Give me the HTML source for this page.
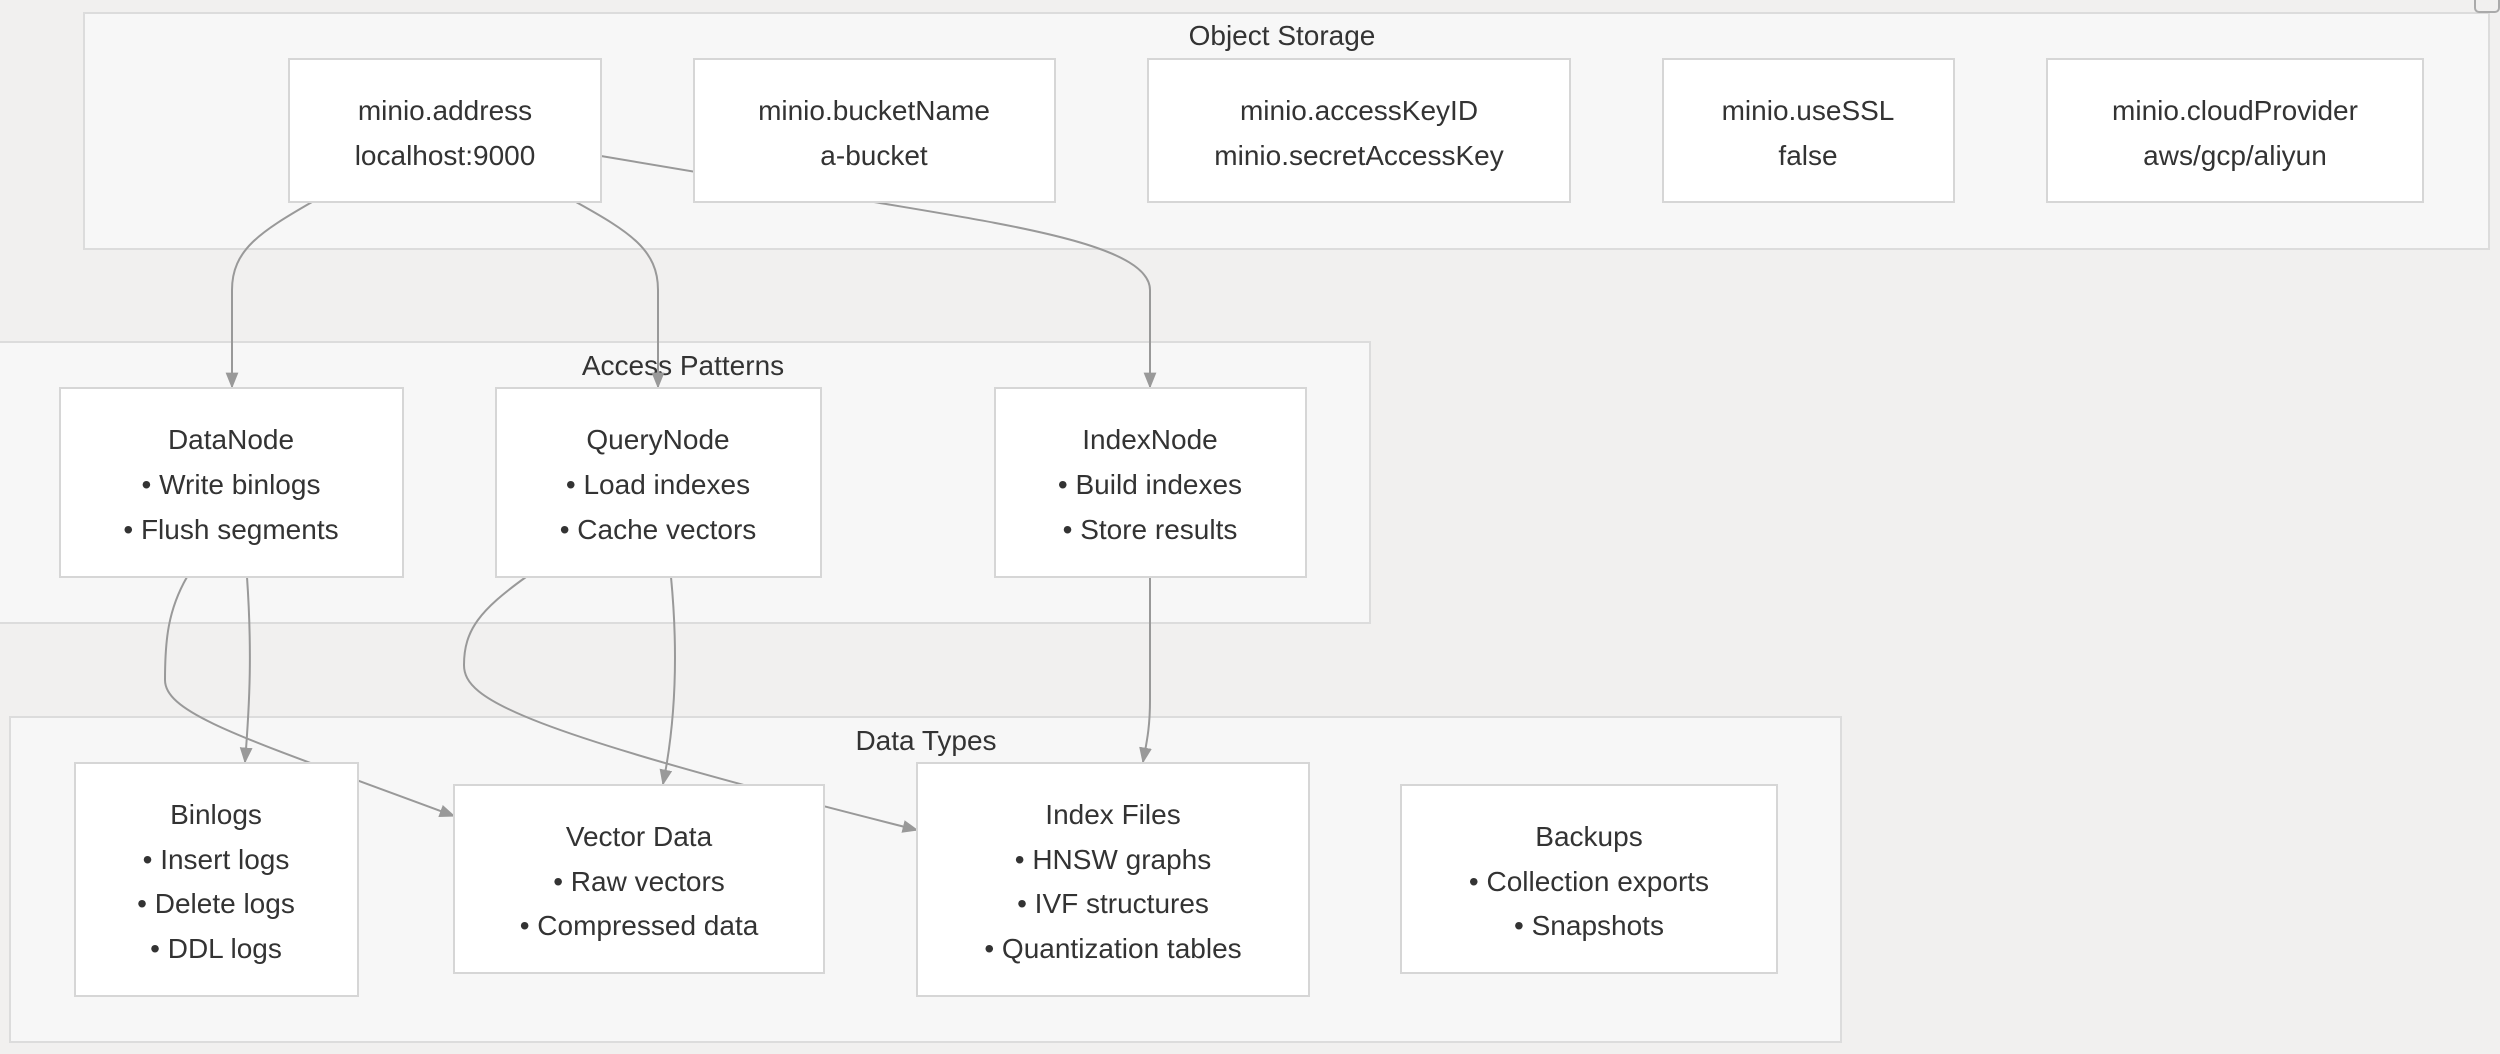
<!DOCTYPE html>
<html><head><meta charset="utf-8"><style>
html,body{margin:0;padding:0;background:#f1f0ef;}
svg{display:block;}
text{font-family:"Liberation Sans",sans-serif;fill:#333;}
</style></head><body>
<svg width="2500" height="1054" viewBox="0 0 2500 1054" xmlns="http://www.w3.org/2000/svg">
<defs><marker id="a" viewBox="0 0 10 10" refX="9" refY="5" markerWidth="9" markerHeight="9" orient="auto-start-reverse" markerUnits="userSpaceOnUse"><path d="M0,0L10,5L0,10z" fill="#999"/></marker>
<marker id="b" viewBox="0 0 10 10" refX="9" refY="5" markerWidth="16" markerHeight="16" orient="auto" markerUnits="userSpaceOnUse"><path d="M0,1L10,5L0,9z" fill="#999"/></marker></defs>
<g fill="#f7f7f7" stroke="#dcdcdc" stroke-width="2">
<rect x="84" y="13" width="2405" height="236"/>
<rect x="-5" y="342" width="1375" height="281"/>
<rect x="10" y="717" width="1831" height="325"/>
</g>
<g font-size="28" text-anchor="middle">
<text x="1282" y="45">Object Storage</text>
<text x="683" y="375">Access Patterns</text>
<text x="926" y="750">Data Types</text>
</g>
<g fill="none" stroke="#999" stroke-width="2" marker-end="url(#b)">
<path d="M312,202 C260,232 232,250 232,290 L232,387"/>
<path d="M576,202 C630,232 658,250 658,290 L658,387"/>
<path d="M601,156 L874,202 C1010,225 1150,245 1150,290 L1150,387"/>
<path d="M187,577 C168,610 165,640 165,680 C165,715 250,740 454,816"/>
<path d="M247,577 C252,650 250,700 245,762"/>
<path d="M526,577 C480,610 464,630 464,665 C464,700 520,730 917,830"/>
<path d="M671,577 C678,650 676,720 663,784"/>
<path d="M1150,577 L1150,700 C1150,730 1146,745 1143,762"/>
</g>
<g fill="#fff" stroke="#d6d6d6" stroke-width="2">
<rect x="289" y="59" width="312" height="143"/>
<rect x="694" y="59" width="361" height="143"/>
<rect x="1148" y="59" width="422" height="143"/>
<rect x="1663" y="59" width="291" height="143"/>
<rect x="2047" y="59" width="376" height="143"/>
<rect x="60" y="388" width="343" height="189"/>
<rect x="496" y="388" width="325" height="189"/>
<rect x="995" y="388" width="311" height="189"/>
<rect x="75" y="763" width="283" height="233"/>
<rect x="454" y="785" width="370" height="188"/>
<rect x="917" y="763" width="392" height="233"/>
<rect x="1401" y="785" width="376" height="188"/>
<rect x="2475" y="-6" width="24" height="18" rx="4" fill="none" stroke="#aaa"/>
</g>
<g font-size="28" text-anchor="middle">
<text x="445" y="120">minio.address</text><text x="445" y="165">localhost:9000</text>
<text x="874" y="120">minio.bucketName</text><text x="874" y="165">a-bucket</text>
<text x="1359" y="120">minio.accessKeyID</text><text x="1359" y="165">minio.secretAccessKey</text>
<text x="1808" y="120">minio.useSSL</text><text x="1808" y="165">false</text>
<text x="2235" y="120">minio.cloudProvider</text><text x="2235" y="165">aws/gcp/aliyun</text>
<text x="231" y="449">DataNode</text><text x="231" y="494">• Write binlogs</text><text x="231" y="539">• Flush segments</text>
<text x="658" y="449">QueryNode</text><text x="658" y="494">• Load indexes</text><text x="658" y="539">• Cache vectors</text>
<text x="1150" y="449">IndexNode</text><text x="1150" y="494">• Build indexes</text><text x="1150" y="539">• Store results</text>
<text x="216" y="824">Binlogs</text><text x="216" y="869">• Insert logs</text><text x="216" y="913">• Delete logs</text><text x="216" y="958">• DDL logs</text>
<text x="639" y="846">Vector Data</text><text x="639" y="891">• Raw vectors</text><text x="639" y="935">• Compressed data</text>
<text x="1113" y="824">Index Files</text><text x="1113" y="869">• HNSW graphs</text><text x="1113" y="913">• IVF structures</text><text x="1113" y="958">• Quantization tables</text>
<text x="1589" y="846">Backups</text><text x="1589" y="891">• Collection exports</text><text x="1589" y="935">• Snapshots</text>
</g>
</svg>
</body></html>
